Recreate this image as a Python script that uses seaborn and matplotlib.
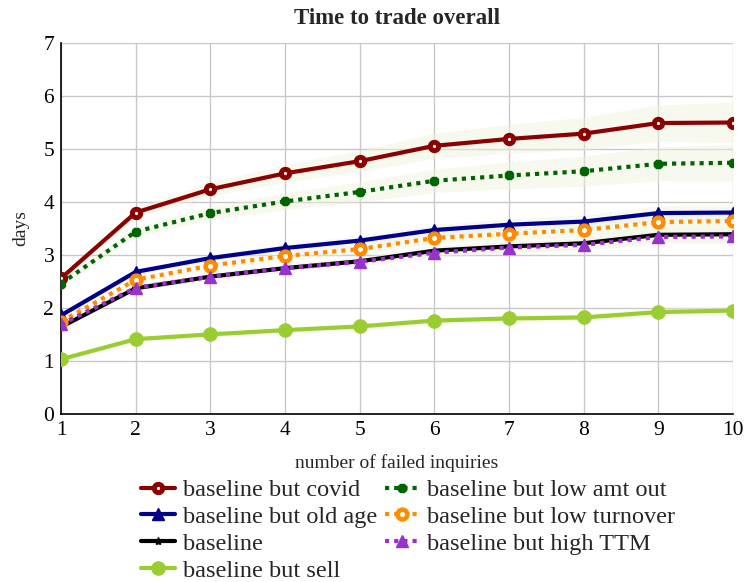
import matplotlib
matplotlib.use("Agg")
import matplotlib.pyplot as plt
import numpy as np
import pandas as pd
import seaborn as sns

sns.set_theme(style="white")
plt.rcParams["font.family"] = ["Liberation Serif", "DejaVu Serif"]

inquiries = [1, 2, 3, 4, 5, 6, 7, 8, 9, 10]

covid = [2.56, 3.80, 4.24, 4.54, 4.77, 5.06, 5.19, 5.29, 5.49, 5.50]
old_age = [1.86, 2.68, 2.94, 3.13, 3.27, 3.47, 3.57, 3.63, 3.79, 3.80]
baseline = [1.64, 2.37, 2.59, 2.75, 2.88, 3.08, 3.16, 3.22, 3.38, 3.39]
sell = [1.03, 1.41, 1.50, 1.58, 1.65, 1.76, 1.80, 1.82, 1.92, 1.95]
low_amt_out = [2.46, 3.44, 3.79, 4.01, 4.19, 4.40, 4.50, 4.58, 4.72, 4.74]
low_turnover = [1.74, 2.53, 2.80, 2.98, 3.11, 3.32, 3.40, 3.47, 3.62, 3.64]
high_ttm = [1.69, 2.38, 2.59, 2.75, 2.87, 3.04, 3.14, 3.19, 3.34, 3.35]

# half-width of the confidence band at the first and last inquiry
band_halfwidth = {
    "baseline but covid": (0.06, 0.38),
    "baseline but old age": (0.04, 0.15),
    "baseline": (0.04, 0.13),
    "baseline but sell": (0.03, 0.08),
    "baseline but low amt out": (0.06, 0.35),
    "baseline but low turnover": (0.04, 0.15),
    "baseline but high TTM": (0.04, 0.13),
}

dotted = (0, (1, 1.2))
series = [
    ("baseline but covid", covid,
     dict(color="#8b0000", linestyle="-", marker="o", markersize=6,
          markerfacecolor="white", markeredgewidth=3.6)),
    ("baseline but old age", old_age,
     dict(color="#00008b", linestyle="-", marker="^", markersize=9,
          markeredgewidth=1)),
    ("baseline", baseline,
     dict(color="black", linestyle="-", marker="*", markersize=6,
          markeredgewidth=1)),
    ("baseline but sell", sell,
     dict(color="#9acd32", linestyle="-", marker="o", markersize=9.5,
          markeredgewidth=1)),
    ("baseline but low amt out", low_amt_out,
     dict(color="#006400", linestyle=dotted, marker="8", markersize=7,
          markeredgewidth=1)),
    ("baseline but low turnover", low_turnover,
     dict(color="#ff8c00", linestyle=dotted, marker="o", markersize=7,
          markerfacecolor="white", markeredgewidth=3.3)),
    ("baseline but high TTM", high_ttm,
     dict(color="#9932cc", linestyle=dotted, marker="^", markersize=9,
          markeredgewidth=1)),
]

fig = plt.figure(figsize=(7.45, 5.82), dpi=100)
ax = fig.add_axes([0.082, 0.289, 0.902, 0.637])

x = np.array(inquiries, dtype=float)
for name, vals, _ in series:
    lo, hi = band_halfwidth[name]
    hw = lo + (hi - lo) * (x - 1) / 9
    v = np.array(vals)
    ax.fill_between(x, v - hw, v + hw, color="#eef3dc", alpha=0.45,
                    linewidth=0, zorder=1)

for name, vals, style in series:
    df = pd.DataFrame({"inquiries": inquiries, "days": vals})
    sns.lineplot(data=df, x="inquiries", y="days", ax=ax, label=name,
                 linewidth=3, markeredgecolor=style["color"], zorder=3,
                 **style)

ax.set_xlim(1, 10)
ax.set_ylim(0, 7)
ax.set_xticks(inquiries)
ax.set_yticks(range(0, 8))
ax.grid(True, color="#c8c8c8", linewidth=1)
ax.set_axisbelow(True)
for side in ("top", "right"):
    ax.spines[side].set_visible(False)
for side in ("left", "bottom"):
    ax.spines[side].set_color("black")
    ax.spines[side].set_linewidth(1.2)
ax.tick_params(axis="both", direction="in", length=5, width=1, color="#888888",
               labelsize=15.5, labelcolor="black", pad=5)

ax.set_title("Time to trade overall", fontsize=16.5, fontweight="bold", pad=14)
ax.set_xlabel("number of failed inquiries", fontsize=14, labelpad=10)
ax.set_ylabel("days", fontsize=14, labelpad=10)

handles, labels = ax.get_legend_handles_labels()
ax.legend(handles, labels, ncol=2, loc="upper center",
          bbox_to_anchor=(0.516, -0.176), frameon=False,
          prop={"family": "Liberation Serif", "size": 17.5},
          handlelength=1.4, handletextpad=0.33, columnspacing=0.3,
          labelspacing=0.2, borderaxespad=0, borderpad=0)

fig.savefig("out.png", dpi=100)
